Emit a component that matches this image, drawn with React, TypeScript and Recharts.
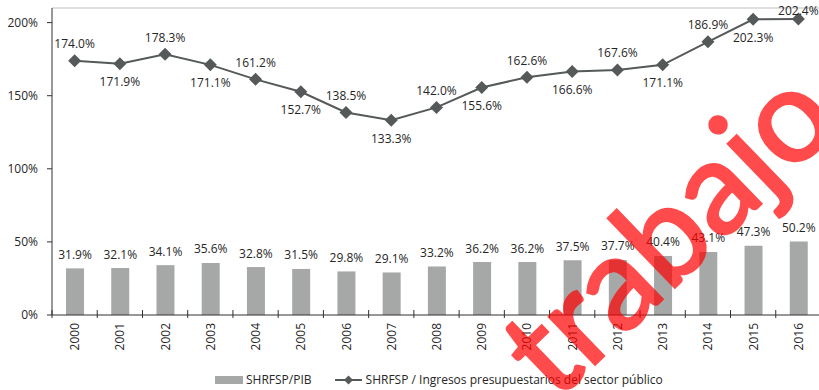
import React from 'react';
import { ComposedChart, Bar, Line, XAxis, YAxis, LabelList, ReferenceLine } from 'recharts';

const years = ['2000', '2001', '2002', '2003', '2004', '2005', '2006', '2007', '2008', '2009', '2010', '2011', '2012', '2013', '2014', '2015', '2016'];
const shrfspPib = [31.9, 32.1, 34.1, 35.6, 32.8, 31.5, 29.8, 29.1, 33.2, 36.2, 36.2, 37.5, 37.7, 40.4, 43.1, 47.3, 50.2];
const shrfspIngresos = [174.0, 171.9, 178.3, 171.1, 161.2, 152.7, 138.5, 133.3, 142.0, 155.6, 162.6, 166.6, 167.6, 171.1, 186.9, 202.3, 202.4];
const yTicks = [0, 50, 100, 150, 200];

const data = years.map((year, i) => ({ year, pib: shrfspPib[i], ingresos: shrfspIngresos[i] }));

const FONT = '"Open Sans", sans-serif';
const TEXT = '#262626';
const AXIS = '#303030';
const BAR = '#a6a8a8';
const LINE = '#555959';

const CHART_W = 823;
const Y_AXIS_W = 52;
const RIGHT_PAD = 2;
const BAND = (CHART_W - Y_AXIS_W - RIGHT_PAD) / years.length;

const pct = (v: number) => `${v.toFixed(1)}%`;

// year labels rotated, with the tick mark on the left edge of each category
const YearTick = (props: any) => {
  const { x, y, payload } = props;
  const edge = x - BAND / 2;
  return (
    <g>
      <line x1={edge} x2={edge} y1={y - 5} y2={y + 3} stroke={AXIS} strokeWidth={1} />
      <text
        transform={`translate(${x},${y + 8}) rotate(-90)`}
        textAnchor="end"
        dominantBaseline="central"
        fontSize={12}
        fontFamily={FONT}
        fill={TEXT}
      >
        {payload.value}
      </text>
    </g>
  );
};

const Diamond = (props: any) => {
  const { cx, cy, index } = props;
  const r = 6.5;
  return <path key={`d-${index}`} d={`M${cx},${cy - r}L${cx + r},${cy}L${cx},${cy + r}L${cx - r},${cy}Z`} fill={LINE} />;
};

// line labels alternate above and below the points, kept inside the top edge
const LineLabel = (props: any) => {
  const { x, y, value, index } = props;
  const dy = index % 2 === 0 ? -17 : 18;
  return (
    <text x={x} y={Math.max(y + dy, 10)} textAnchor="middle" dominantBaseline="central" fontSize={12} fontFamily={FONT} fill={TEXT}>
      {pct(value)}
    </text>
  );
};

const BarLabel = (props: any) => {
  const { x, y, width, value } = props;
  return (
    <text x={x + width / 2} y={y - 14} textAnchor="middle" dominantBaseline="central" fontSize={12} fontFamily={FONT} fill={TEXT}>
      {pct(value)}
    </text>
  );
};

export default function App() {
  return (
    <div style={{ position: 'relative', width: 819, height: 390, overflow: 'hidden', background: '#fff', fontFamily: FONT }}>
      <style>{'body{margin:0}'}</style>
      <ComposedChart width={CHART_W} height={390} data={data} margin={{ top: 8, right: RIGHT_PAD, left: 0, bottom: 0 }}>
        <ReferenceLine y={210} stroke="#bfbfbf" strokeWidth={1} />
        <XAxis
          dataKey="year"
          height={75}
          interval={0}
          stroke={AXIS}
          tickLine={false}
          tickSize={0}
          tickMargin={0}
          tick={<YearTick />}
        />
        <YAxis
          width={Y_AXIS_W}
          domain={[0, 210]}
          ticks={yTicks}
          tickFormatter={(v: number) => `${v}%`}
          stroke={AXIS}
          tickSize={5}
          tickMargin={9}
          tick={{ fill: TEXT, fontSize: 12, fontFamily: FONT }}
        />
        <Bar dataKey="pib" fill={BAR} barSize={18} isAnimationActive={false}>
          <LabelList dataKey="pib" content={<BarLabel />} />
        </Bar>
        <Line
          type="linear"
          dataKey="ingresos"
          stroke={LINE}
          strokeWidth={2}
          dot={<Diamond />}
          activeDot={false}
          isAnimationActive={false}
        >
          <LabelList dataKey="ingresos" content={<LineLabel />} />
        </Line>
      </ComposedChart>

      <div style={{ position: 'absolute', top: 371, left: 215, display: 'flex', alignItems: 'center', fontSize: 12, color: TEXT, whiteSpace: 'nowrap' }}>
        <span style={{ display: 'inline-block', width: 28, height: 8, background: BAR, marginRight: 3 }} />
        <span>SHRFSP/PIB</span>
        <svg width={30} height={14} style={{ marginLeft: 22, marginRight: 2 }}>
          <line x1={1} x2={28} y1={7} y2={7} stroke={LINE} strokeWidth={2} />
          <path d="M14.5,2.5L19,7L14.5,11.5L10,7Z" fill={LINE} />
        </svg>
        <span>SHRFSP / Ingresos presupuestarios del sector público</span>
      </div>

      <div
        style={{
          position: 'absolute',
          left: 664,
          top: 228,
          transform: 'translate(-50%, -50%) rotate(-44deg)',
          fontFamily: 'Lato, sans-serif',
          fontSize: 130,
          lineHeight: 1,
          color: '#ff0000',
          WebkitTextStroke: '3px #ff0000',
          opacity: 0.7,
          whiteSpace: 'nowrap',
          pointerEvents: 'none',
        }}
      >
        trabajo
      </div>
    </div>
  );
}
